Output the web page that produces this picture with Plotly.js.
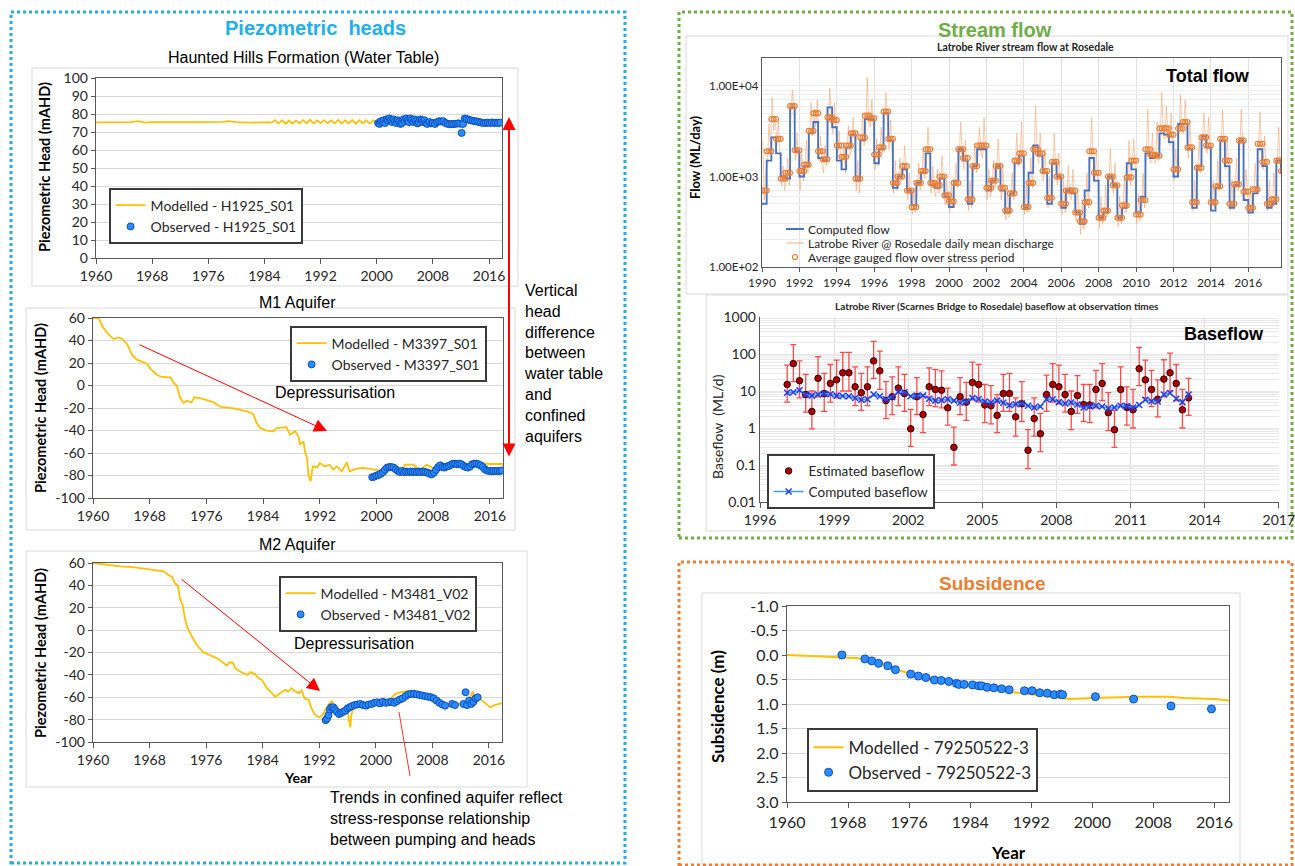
<!DOCTYPE html>
<html><head><meta charset="utf-8">
<script src="https://cdn.plot.ly/plotly-3.0.1.min.js"></script>
<style>html,body{margin:0;padding:0;background:#fff}#chart{width:1295px;height:866px}</style>
</head><body><div id="chart"></div>
<script>
const W=1295,H=866;
// ---------- Haunted Hills (H1925_S01) ----------
const hhModYears=[1960,1963,1965,1966,1967,1968,1972,1975,1978,1979,1980,1982,1984.5,
1985,1985.5,1986,1986.5,1987,1987.5,1988,1988.5,1989,1989.5,1990,1990.5,1991,1991.5,1992,1992.5,1993,1993.5,1994,1994.5,1995,1995.5,1996,1996.5,1997,1997.5,1998,1998.5,1999,1999.5,
2000,2000.5,2001,2001.5,2002,2002.5,2003,2003.5,2004,2004.5,2005,2005.5,2006,2006.5,2007,2007.5,2008,2008.5,2009,2009.5,2010,2010.5,2011,2011.5,
2012,2013,2014,2015,2016,2017,2017.85];
const hhModVals=[75.3,75.4,75.5,76,75.2,75.5,75.3,75.5,75.6,76,75.5,75.2,75.5,
75.2,76.6,74.8,76.5,74.6,76.4,74.7,76.3,74.8,76.6,74.9,76.8,74.8,76.5,75,76.6,74.9,76.4,74.8,76.7,74.7,76.5,74.8,76.6,74.6,76.5,74.8,76.5,74.7,76.6,
74.8,76.4,75,76.5,75,76.3,74.9,76.4,75,76.2,75,76.3,75.1,76.2,75,76.1,75,76.2,75.1,76,75,76.1,75.2,76,
75.3,75.6,75.4,75.5,75.5,75.4,75.5];
const hhObsYears=[2000.2,2000.4,2000.6,2000.8,2001,2001.2,2001.4,2001.6,2001.8,2002,2002.2,2002.4,2002.6,2002.8,2003,2003.2,2003.4,2003.6,2003.8,2004,2004.2,2004.4,2004.6,2004.8,2005,2005.2,2005.4,2005.6,2005.8,2006,2006.2,2006.4,2006.6,2006.8,2007,2007.2,
2007.5,2007.8,2008,2008.3,2008.6,2008.9,2009.2,2009.5,2009.8,2010.1,2010.4,2010.7,2011,2011.3,2011.6,2011.9,
2012.1,2012.3,2012.55,2012.8,
2013.1,2013.4,2013.7,2014,2014.3,2014.6,2014.9,2015.2,2015.5,2015.8,2016.1,2016.4,2016.7,2017,2017.3,2017.6];
const hhObsVals=[75,74.5,76,75.5,76.5,75,77,76.5,77.5,76.5,75.5,77,76,75,76.5,75.5,74.5,75,77,76,77.5,76.5,75.5,77.5,76.5,75.5,77,76,74.8,75.5,77,76.5,75.5,76.5,75,74.5,
75.5,74.8,75,74.5,75.5,76,75.8,76,75,74.5,74.3,74.5,74.4,74.6,74.8,74.6,
69.5,74.5,77.5,77.2,
76.8,76.5,76.2,76,75.8,75.5,75.3,75,75,75.2,75,75.3,75,75.2,75,75.2];
// ---------- M1 Aquifer (M3397_S01) ----------
const m1ModYears=[1960,1960.8,1961.3,1962,1962.9,1963.6,1964.1,1964.8,1965.5,1966.2,1967.6,1968.1,1969,1969.7,1970.9,1971.4,1971.8,1972.3,1972.8,1973.2,1973.9,1974.3,1975.1,1977,1977.9,1978.9,1979.8,1981.7,1982.6,1983.1,1983.6,1984.5,1985.5,1985.9,1987.3,1987.8,1988.5,1989,1989.2,1989.7,1989.9,1990.2,1990.4,1990.7,1991,1991.6,1992,1992.7,1993.4,1993.9,1994.4,1995.1,1995.8,1996.2,1997.2,1998.1,1999.5,2000.5,2001.4,2002.4,2003.8,2004,2005.2,2006.1,2007.1,2008,2009.4,2010.8,2012.7,2014.6,2016,2017.85];
const m1ModVals=[60,60,52.6,46.7,41.3,42.8,41.6,36.9,27.4,23,19.4,15,9.6,7.6,7.3,2.2,-0.1,-11,-15.6,-13.5,-15,-10.5,-11.3,-14.8,-18.8,-19.3,-20.3,-23,-25.3,-33.3,-37.8,-40.1,-40.7,-37.8,-37,-43.7,-40.7,-45.2,-52.6,-49.6,-58.5,-64.4,-79.3,-85.2,-71.9,-72.8,-68.9,-71.9,-70.4,-74.8,-71.9,-76.3,-68.3,-76.3,-73.9,-73.3,-74.8,-75.7,-73.9,-73.3,-73.9,-70.4,-70.4,-74.8,-70.4,-73.3,-71.9,-71.9,-71,-68.9,-69.8,-69.8];
const m1ObsYears=[1999.4,1999.7,2000,2000.3,2000.6,2000.9,2001.2,2001.5,2001.8,2002.1,2002.4,2002.7,2003,2003.3,2003.6,2003.9,2004.2,2004.5,2004.8,2005.1,2005.4,2005.7,2006,2006.3,2006.6,2006.9,2007.2,2007.5,2007.8,2008.1,2008.4,2008.7,2009,2009.3,2009.6,2009.9,2010.2,2010.5,2010.8,2011.1,2011.4,2011.7,2012,2012.3,2012.6,2012.9,2013.2,2013.5,2013.8,2014.1,2014.4,2014.7,2015,2015.3,2015.6,2015.9,2016.2,2016.5,2016.8,2017.1,2017.4,2017.7];
const m1ObsVals=[-81.5,-81,-80,-79.5,-78.5,-77,-75,-73,-72.5,-72.5,-73,-74.5,-76,-77,-76,-77,-76.5,-77,-76.5,-77,-76.5,-77,-76.5,-77,-76.5,-77,-77.5,-78.5,-79,-77.5,-75,-72.5,-71,-72.5,-73,-72,-71.5,-70.5,-69.5,-69.5,-70,-69.5,-70,-71.5,-72.5,-73,-72,-70,-69.5,-69.5,-70,-71,-72.5,-74.5,-75.5,-76,-76,-76,-76,-76,-76,-75.5];
// ---------- M2 Aquifer (M3481_V02) ----------
const m2ModYears=[1960,1962,1963.9,1965.7,1967.6,1969,1970,1970.7,1971.2,1971.6,1972,1972.3,1972.7,1973,1973.4,1974,1974.7,1975.6,1976.6,1977.5,1978.5,1978.9,1979.3,1979.8,1980.1,1980.8,1981.8,1982.3,1982.9,1983.4,1983.9,1984.6,1985.3,1985.8,1986.5,1986.9,1987.2,1987.6,1988.1,1988.6,1989.1,1989.5,1989.9,1990.5,1990.9,1991.4,1992,1992.5,1992.8,1993.3,1993.8,1994.2,1994.9,1995.4,1995.9,1996.1,1996.4,1996.5,1996.8,1997.8,1998.7,2000.1,2001.1,2002,2002.7,2003.4,2004.8,2006.3,2007.7,2008.6,2009.6,2010.5,2011.5,2012.4,2012.9,2013.4,2013.7,2014.1,2014.8,2015.5,2016.2,2016.7,2017.85];
const m2ModVals=[60,58.5,57,56.4,55,54,52.6,49,47.5,41.6,40,28,22,10.4,1.5,-6,-13.3,-19.8,-22.8,-25,-29.5,-31.7,-28.7,-29,-34,-37,-40,-37.5,-39.3,-43,-44.5,-51.9,-56.3,-59.6,-56.3,-54.2,-53.4,-54.8,-51.9,-54.8,-56.3,-53.9,-60.8,-62.3,-69.7,-75.6,-78,-75.6,-72,-66.7,-63.1,-71.1,-75.6,-72.6,-70.3,-77.1,-86.9,-77.1,-69.7,-66.7,-67.3,-65.2,-63.7,-62.3,-57.2,-55.7,-54.2,-56.3,-57.8,-63.7,-66.7,-68.2,-66.1,-65.2,-63.7,-59.3,-54.8,-62.3,-61.7,-65.2,-69,-67.3,-65.2];
const m2ObsYears=[1992.9,1993.1,1993.3,1993.5,1993.7,1994,1994.2,1994.5,1994.8,1995.1,1995.4,1995.7,1996,1996.3,1996.6,1997,1997.4,1997.8,1998.2,1998.6,1999,1999.4,1999.8,2000.2,2000.6,2001,2001.4,2001.8,2002.2,2002.6,2003,2003.4,2003.8,2004.2,2004.6,2005,2005.4,2005.8,2006.2,2006.6,2007,2007.4,2007.8,2008.2,2008.6,2009,2009.4,2009.8,2010.8,2011.2,2012.4,2012.7,2012.9,2013.2,2013.5,2013.8,2014.1,2014.4];
const m2ObsVals=[-80.5,-79,-76,-71,-69,-69,-71,-73,-75,-74,-73,-72,-70,-69,-68,-67,-66.5,-66,-67,-67.5,-66.5,-66,-65,-64.5,-65.5,-64,-65,-64.5,-64,-65,-63.5,-62,-61,-59,-57.5,-57,-57,-57.5,-58,-58.5,-59,-59.5,-60,-61,-63,-65,-66.5,-67.5,-66,-67,-66,-55.5,-67,-63,-66,-64,-61,-60];
const headTickVals=[-100,-80,-60,-40,-20,0,20,40,60];
const headTickText=['-100','-80','-60','-40','-20','0','20','40','60'];
// ---------- Stream flow (quarterly stress periods from 1990) ----------
const sfStartYear=1990, sfPeriod=0.25;
const sfComputed=[500,1500,2700,1800, 1000,950,5800,1900, 1000,1300,3000,4000, 1600,1500,5800,3500, 1500,1200,2100,2900, 900,2500,4300,4300, 1400,2000,5000,2500, 750,1000,1200,700, 480,850,1100,1800, 800,750,950,600, 460,900,2000,1500, 500,1300,2000,2000, 700,900,1300,700, 400,650,1400,1700, 450,1100,2200,1700, 1100,500,1400,1000, 450,700,650,400, 300,700,1600,900, 350,400,1000,800, 350,450,1400,1200, 400,600,1800,1600, 1700,3000,2900,2400, 1000,3800,3800,2000, 450,1300,2800,2100, 420,750,2500,1300, 450,800,2500,550, 400,650,2000,1300, 450,500,1500,1100];
const sfGauged=[700,1900,4300,2600, 950,1100,6000,1950, 1150,1350,3200,5000, 1900,1550,4500,4200, 2200,1650,2200,3000, 950,2700,4700,4400, 1750,2100,5200,2600, 850,1000,1300,700, 460,850,1150,2000, 850,800,1000,620, 530,850,2000,1600, 560,1300,2200,2200, 750,900,1300,750, 420,650,1500,1800, 460,850,2000,1800, 1150,580,1450,1000, 500,700,700,400, 320,520,1900,1100, 350,420,1000,800, 350,480,980,1500, 380,550,2000,1750, 1700,3400,3400,2900, 1200,3400,4000,2100, 520,1250,2700,2200, 520,780,2600,1500, 500,820,2500,680, 450,720,2300,1450, 500,560,1500,1150];
// monthly snapshot of the daily mean discharge (ML/day)
const sfDaily=[
2500,550,1200, 1400,3800,1900, 7500,3200,4500, 2200,4000,1800,
800,1300,700, 900,1600,800, 4500,9000,5500, 1500,3000,1300,
700,1800,900, 1200,2500,1100, 2500,6500,2800, 5500,3500,7000,
1500,2800,1400, 1100,2200,1300, 3500,9500,4000, 3000,6500,2800,
1600,3200,1500, 1200,2400,1100, 1800,3600,1700, 2200,4500,2400,
700,1500,650, 2000,5000,2200, 3500,12500,4000, 3500,7000,3200,
1200,2600,1300, 1600,3500,1800, 4000,8500,4200, 2000,4200,1900,
650,1500,700, 800,1600,900, 1000,2200,1100, 550,1100,500,
380,750,400, 650,1400,700, 900,2000,950, 1500,3500,1600,
650,1300,700, 600,1200,650, 800,1700,850, 480,900,500,
400,800,450, 700,1400,750, 1600,4000,1700, 1200,2500,1300,
420,900,450, 1000,2300,1100, 1700,3500,1800, 1600,4500,1700,
550,1200,600, 700,1500,750, 1000,2600,1100, 550,1200,600,
330,700,350, 500,1100,550, 1200,3000,1300, 1400,4000,1500,
380,800,400, 700,1600,750, 1600,6000,1800, 1400,3000,1500,
900,2000,950, 450,1000,500, 1100,3000,1200, 800,1800,850,
380,900,400, 550,1300,600, 550,1200,580, 320,700,350,
230,480,260, 420,1100,450, 1400,4500,1500, 850,1800,900,
270,600,300, 330,800,360, 800,2000,850, 650,1400,700,
280,600,300, 380,1000,400, 750,2500,800, 1200,2600,1250,
300,650,320, 420,1100,450, 1500,5500,1700, 1400,3000,1500,
1400,4000,1500, 2500,8500,2800, 2600,6000,2800, 2200,5000,2400,
900,2000,1000, 2800,8000,3000, 3000,7000,3400, 1600,4000,1800,
420,900,450, 1000,2500,1100, 2200,5000,2400, 1800,4500,1900,
420,900,450, 650,1500,700, 2000,5500,2200, 1200,2800,1300,
420,900,450, 650,1600,700, 2000,5500,2200, 550,1200,600,
380,800,400, 600,1400,650, 1800,5200,2000, 1200,2800,1300,
420,900,450, 480,1100,500, 1200,3500,1300, 900,2000,1000];
const flowTickVals=[100,1000,10000];
const flowTickText=['1.00E+02','1.00E+03','1.00E+04'];
const flowLegend=['Computed flow','Latrobe River @ Rosedale daily mean discharge','Average gauged flow over stress period'];
// ---------- Baseflow ----------
const bfYears=[1997.1,1997.35,1997.6,1997.85,1998.1,1998.35,1998.6,1998.85,1999.1,1999.35,1999.6,1999.85,
2000.1,2000.35,2000.6,2000.85,2001.1,2001.35,2001.6,2001.85,2002.1,2002.35,2002.6,2002.85,
2003.1,2003.35,2003.6,2003.85,2004.1,2004.35,2004.6,2004.85,2005.1,2005.35,2005.6,2005.85,
2006.1,2006.35,2006.6,2006.85,2007.1,2007.35,2007.6,2007.85,2008.1,2008.35,2008.6,2008.85,
2009.1,2009.35,2009.6,2009.85,2010.1,2010.35,2010.6,2010.85,2011.1,2011.35,2011.6,2011.85,
2012.1,2012.35,2012.6,2012.85,2013.1,2013.35];
const bfEstimated=[15,55,19,8,2.8,22,8.5,16,20,31,31,13, 9,13,65,35,5.5,7,12,8.5,0.95,7,2.3,13, 11,10.5,3.5,0.3,7,5,17,15,4.2,4,2.2,8.5, 8.5,2,4.5,0.25,1.8,0.7,8,15,13,8,2.8,7.5, 4.3,4.2,11,16,2.6,0.9,11,3.6,3.1,40,20,11, 6,21,31,16,3.1,6.5];
const bfHigh=[50,180,65,28,10,85,30,52,68,110,110,45, 30,45,220,120,18,24,45,28,3.2,23,8,42, 38,35,12,1.05,23,17,60,52,15,14,8,28, 30,6.5,18,0.9,6.5,2.5,27,55,50,28,10,26, 15,15,36,55,9,3,45,13,11,150,68,36, 20,70,105,52,11,22];
const bfLow=[5,18,6.5,2.7,0.95,7,2.8,5,6.5,10,10,4, 3,4,22,11,1.8,2.3,4,2.8,0.32,2.3,0.75,4, 3.8,3.5,1.2,0.1,2.3,1.6,5.8,5,1.4,1.3,0.75,2.8, 2.8,0.6,1.5,0.08,0.6,0.23,2.8,5,4.5,2.7,0.9,2.5, 1.5,1.4,3.5,5.5,0.85,0.3,3.8,1.2,1,14,6.5,3.8, 2,7,10,5.5,1,2.2];
const bfComputed=[9,9.2,10.5,8,7.5,8,8.5,8.2,7.5,7.3,7.2,6.5, 5.8,6,8,7.2,6,6.8,9.5,9.2,7.2,7.4,7.6,6.2, 5.5,5.6,6,5.5,4.8,5.2,6.5,6.1,5.2,4.9,5.5,4.8, 4.1,4.4,4.6,4,3.6,3.8,6,6,5,4.6,4.9,4.3, 3.6,3.8,4,3.8,3.4,3.6,4,3.9,3.6,4.2,5.8,5.3, 5.2,8,8.8,6.2,5,8];
const bfTickVals=[0.01,0.1,1,10,100,1000];
const bfTickText=['0.01','0.1','1','10','100','1000'];
const bfYearTicks=[1996,1999,2002,2005,2008,2011,2014,2017];
// ---------- Subsidence (79250522-3) ----------
const subModYears=[1960,1966,1969,1971,1973,1975,1977,1980,1983,1986,1989,1992,1994,1996,1997,2000,2004,2006,2010,2012,2016,2017.9];
const subModVals=[0,0.03,0.06,0.1,0.2,0.33,0.42,0.5,0.58,0.68,0.75,0.8,0.84,0.88,0.9,0.88,0.86,0.85,0.85,0.88,0.9,0.93];
const subObsYears=[1967.2,1970.2,1971.1,1972,1973.2,1974.2,1976.2,1977.2,1978.2,1979.3,1980.2,1981.2,1982.2,1982.5,1983.2,1984.3,1985.1,1985.5,1986.2,1987.1,1988.1,1989.1,1991.1,1992.1,1993.1,1994.1,1995,1995.8,1996.1,2000.4,2005.4,2010.3,2015.6];
const subObsVals=[0,0.08,0.12,0.17,0.22,0.3,0.39,0.43,0.46,0.51,0.52,0.54,0.58,0.6,0.6,0.61,0.63,0.63,0.66,0.67,0.69,0.71,0.73,0.73,0.77,0.78,0.81,0.8,0.81,0.85,0.9,1.04,1.1];
const subTickVals=[-1,-0.5,0,0.5,1,1.5,2,2.5,3];
const subTickText=['-1.0','-0.5','0.0','0.5','1.0','1.5','2.0','2.5','3.0'];

// ================= build =================
const X=p=>p/W, Y=p=>1-p/H;
const CAL='Lato, "Open Sans", sans-serif', ARL='"Liberation Sans", Arial, sans-serif';
const GOLD='#ffc000', OBS={size:7,color:'#2b8cff',line:{color:'#0b4fb8',width:1}};
const DAILY='rgba(244,165,115,0.6)', GAUGE='#ed7d31', COMP='#4472c4';

const sfX=sfComputed.map((v,i)=>sfStartYear+i*sfPeriod);
const sfCompX=sfX.concat([sfStartYear+sfComputed.length*sfPeriod]);
const sfCompY=sfComputed.concat([sfComputed[sfComputed.length-1]]);
const gX=[],gY=[];
sfGauged.forEach((v,i)=>{[0.0,0.125,0.25].forEach(o=>{gX.push(sfStartYear+i*sfPeriod+o);gY.push(v);});});
const dX=sfDaily.map((v,i)=>sfStartYear+i/12+1/24);
function logGrid(lo,hi){const a=[];for(let e=lo;e<hi;e++){for(let m=1;m<10;m++)a.push(+(m*Math.pow(10,e)).toPrecision(3));}a.push(Math.pow(10,hi));return a;}
const flowGrid=logGrid(2,4).concat([20000]);
const flowText=flowGrid.map(v=>{const k=flowTickVals.indexOf(v);return k>=0?flowTickText[k]:'';});
const bfGrid=logGrid(-2,3);
const bfText=bfGrid.map(v=>{const k=bfTickVals.findIndex(t=>Math.abs(t-v)<1e-9);return k>=0?bfTickText[k]:'';});

const traces=[
 {x:hhModYears,y:hhModVals,mode:'lines',line:{color:GOLD,width:1.8},name:'Modelled - H1925_S01',xaxis:'x',yaxis:'y',legend:'legend'},
 {x:hhObsYears,y:hhObsVals,mode:'markers',marker:OBS,name:'Observed - H1925_S01',xaxis:'x',yaxis:'y',legend:'legend'},
 {x:m1ModYears,y:m1ModVals,mode:'lines',line:{color:GOLD,width:1.8},name:'Modelled - M3397_S01',xaxis:'x2',yaxis:'y2',legend:'legend2'},
 {x:m1ObsYears,y:m1ObsVals,mode:'markers',marker:OBS,name:'Observed - M3397_S01',xaxis:'x2',yaxis:'y2',legend:'legend2'},
 {x:m2ModYears,y:m2ModVals,mode:'lines',line:{color:GOLD,width:1.8},name:'Modelled - M3481_V02',xaxis:'x3',yaxis:'y3',legend:'legend3'},
 {x:m2ObsYears,y:m2ObsVals,mode:'markers',marker:OBS,name:'Observed - M3481_V02',xaxis:'x3',yaxis:'y3',legend:'legend3'},
 {x:dX,y:sfDaily,mode:'lines',line:{color:DAILY,width:1},name:flowLegend[1],xaxis:'x4',yaxis:'y4',showlegend:false},
 {x:sfCompX,y:sfCompY,mode:'lines',line:{color:COMP,width:1.8,shape:'hv'},name:flowLegend[0],xaxis:'x4',yaxis:'y4',showlegend:false},
 {x:gX,y:gY,mode:'markers',marker:{symbol:'circle-open',size:5,color:GAUGE,line:{width:1.2,color:GAUGE}},name:flowLegend[2],xaxis:'x4',yaxis:'y4',showlegend:false},
 {x:bfYears,y:bfEstimated,mode:'markers',marker:{size:6.5,color:'#b00000',line:{color:'#2a0000',width:1}},
  error_y:{type:'data',symmetric:false,array:bfHigh.map((h,i)=>h-bfEstimated[i]),arrayminus:bfLow.map((l,i)=>bfEstimated[i]-l),color:'#ff4a4a',thickness:1.3,width:3},
  name:'Estimated baseflow',xaxis:'x5',yaxis:'y5',legend:'legend5'},
 {x:bfYears,y:bfComputed,mode:'lines+markers',line:{color:'#3d9cff',width:1.5},marker:{symbol:'x-thin-open',size:6,color:'#1d3cf0',line:{width:1.5,color:'#1d3cf0'}},name:'Computed baseflow',xaxis:'x5',yaxis:'y5',legend:'legend5'},
 {x:subModYears,y:subModVals,mode:'lines',line:{color:GOLD,width:2},name:'Modelled - 79250522-3',xaxis:'x6',yaxis:'y6',legend:'legend6'},
 {x:subObsYears,y:subObsVals,mode:'markers',marker:{size:8,color:'#2b8cff',line:{color:'#0b4fb8',width:1}},name:'Observed - 79250522-3',xaxis:'x6',yaxis:'y6',legend:'legend6'}
];

function ax(o){return Object.assign({showgrid:false,zeroline:false,showline:true,mirror:true,linecolor:'#595959',linewidth:1.3,
  ticks:'outside',ticklen:5,tickcolor:'#595959',tickfont:{family:CAL,size:14,color:'#262626'},fixedrange:true},o);}
const yearAx=(a,b,an)=>ax({domain:[X(a),X(b)],anchor:an,range:[1960,2017.85],tick0:1960,dtick:8});
function leg(x,y,size){return {x:X(x),y:Y(y),xanchor:'left',yanchor:'top',bgcolor:'#ffffff',
  bordercolor:'#3a3a3a',borderwidth:1.6,font:{family:CAL,size:size,color:'#262626'},itemwidth:30,tracegroupgap:0};}

const layout={width:W,height:H,margin:{l:0,r:0,t:0,b:0},paper_bgcolor:'#fff',plot_bgcolor:'#fff',
 xaxis:yearAx(96,502,'y'),
 yaxis:ax({domain:[Y(258),Y(78)],anchor:'x',range:[0,100],dtick:10,showgrid:true,gridcolor:'#d9d9d9',ticklen:4}),
 xaxis2:yearAx(93,503,'y2'),
 yaxis2:ax({domain:[Y(498),Y(318)],anchor:'x2',range:[-100,60],tickvals:headTickVals,ticktext:headTickText,showgrid:true,gridcolor:'#d9d9d9',ticklen:4}),
 xaxis3:yearAx(93,502,'y3'),
 yaxis3:ax({domain:[Y(742),Y(563)],anchor:'x3',range:[-100,60],tickvals:headTickVals,ticktext:headTickText,showgrid:true,gridcolor:'#d9d9d9',ticklen:4}),
 xaxis4:ax({domain:[X(762),X(1281)],anchor:'y4',range:[1990,2017.75],tick0:1990,dtick:2,showgrid:true,gridcolor:'#e2e2e2',ticklen:4,tickfont:{family:CAL,size:12,color:'#262626'}}),
 yaxis4:ax({domain:[Y(267),Y(58)],anchor:'x4',type:'log',range:[2,4.309],tickvals:flowGrid,ticktext:flowText,ticks:'',showgrid:true,gridcolor:'#ececec',tickfont:{family:CAL,size:11.5,color:'#262626'}}),
 xaxis5:ax({domain:[X(760),X(1279)],anchor:'y5',range:[1996,2017.01],tickvals:bfYearTicks,ticktext:bfYearTicks.map(String),mirror:false,showgrid:true,gridcolor:'#e0e0e0',ticklen:5,tickfont:{family:CAL,size:14,color:'#262626'}}),
 yaxis5:ax({domain:[Y(502),Y(317)],anchor:'x5',type:'log',range:[-2,3],tickvals:bfGrid,ticktext:bfText,ticks:'',mirror:false,showgrid:true,gridcolor:'#e8e8e8',tickfont:{family:CAL,size:14,color:'#262626'}}),
 xaxis6:ax({domain:[X(787),X(1229)],anchor:'y6',range:[1960,2017.9],tick0:1960,dtick:8,tickfont:{family:CAL,size:16,color:'#262626'}}),
 yaxis6:ax({domain:[Y(802),Y(606)],anchor:'x6',range:[3,-1],tickvals:subTickVals,ticktext:subTickText,showgrid:true,gridcolor:'#d9d9d9',ticklen:4,tickfont:{family:CAL,size:16,color:'#262626'}}),
 legend:leg(109,188,14),
 legend2:leg(290,326,14),
 legend3:leg(279,576,14),
 legend5:leg(767,454,13.5),
 legend6:leg(807,728,17),
 showlegend:true
};

function rect(x0,y0,x1,y1,color,width,dash){return {type:'rect',xref:'paper',yref:'paper',x0:X(x0),x1:X(x1),y0:Y(y1),y1:Y(y0),line:{color:color,width:width,dash:dash||'solid'},fillcolor:'rgba(0,0,0,0)',layer:'below'};}
function seg(x0,y0,x1,y1,color,width){return {type:'line',xref:'paper',yref:'paper',x0:X(x0),y0:Y(y0),x1:X(x1),y1:Y(y1),line:{color:color,width:width}};}
layout.shapes=[
 rect(32,68,518,286,'#d9d9d9',1), rect(26,308,515,530,'#d9d9d9',1), rect(26,551,527,787,'#d9d9d9',1),
 rect(686,36,1288,294,'#d9d9d9',1), rect(706,295,1288,531,'#d9d9d9',1), rect(702,593,1240,865,'#d9d9d9',1),
 rect(11,12,625,863,'#29abe2',3,'dot'), rect(679,12,1292,538,'#70ad47',3,'dot'), rect(679,562,1292,865,'#ed7d31',3,'dot'),
 seg(399,712,410,776,'#ff3030',1),
 // stream-flow legend symbols
 seg(786,229,804,229,COMP,2),
 seg(786,243,804,243,DAILY,1.5),
 {type:'circle',xref:'paper',yref:'paper',x0:X(792.5),x1:X(797.5),y0:Y(259.5),y1:Y(254.5),line:{color:GAUGE,width:1.2},fillcolor:'rgba(0,0,0,0)'}
];

function txt(t,x,y,size,opts){return Object.assign({text:t,xref:'paper',yref:'paper',x:X(x),y:Y(y),showarrow:false,xanchor:'center',yanchor:'middle',font:{family:ARL,size:size,color:'#000'}},opts||{});}
function arrow(x0,y0,x1,y1,w,size,both){return {text:'',xref:'paper',yref:'paper',x:X(x1),y:Y(y1),axref:'pixel',ayref:'pixel',ax:x0-x1,ay:y0-y1,
  showarrow:true,arrowcolor:'#ff0000',arrowwidth:w,arrowhead:2,arrowsize:size,startarrowhead:2,startarrowsize:size,arrowside:both?'end+start':'end',standoff:0,startstandoff:0};}
const legTxt=(t,y)=>txt(t,806,y,12,{xanchor:'left',font:{family:CAL,size:12,color:'#262626'}});
layout.annotations=[
 txt('<b>Piezometric  heads</b>',315,28,20,{font:{family:ARL,size:20,color:'#1cb0ec'}}),
 txt('<b>Stream flow</b>',995,30,20,{font:{family:ARL,size:20,color:'#70ad47'}}),
 txt('<b>Subsidence</b>',992,583,19,{font:{family:ARL,size:19,color:'#ed7d31'}}),
 txt('Haunted Hills Formation (Water Table)',303,57,16),
 txt('M1 Aquifer',297,302,16),
 txt('M2 Aquifer',297,544,16),
 txt('<b>Latrobe River stream flow at Rosedale</b>',1025,47,10.5,{font:{family:CAL,size:10.5,color:'#262626'}}),
 txt('<b>Latrobe River (Scarnes Bridge to Rosedale) baseflow at observation times</b>',997,306,10,{font:{family:CAL,size:10,color:'#262626'}}),
 txt('<b>Total flow</b>',1208,76,18),
 txt('<b>Baseflow</b>',1224,334,18),
 txt('Depressurisation',335,392,16),
 txt('Depressurisation',354,643,16),
 txt('Vertical<br>head<br>difference<br>between<br>water table<br>and<br>confined<br>aquifers',522,280,16,{xanchor:'left',yanchor:'top',align:'left'}),
 txt('Trends in confined aquifer reflect<br>stress-response relationship<br>between pumping and heads',328,787,16,{xanchor:'left',yanchor:'top',align:'left'}),
 legTxt(flowLegend[0],229), legTxt(flowLegend[1],243), legTxt(flowLegend[2],257),
 // axis titles
 txt('<b>Piezometric Head (mAHD)</b>',44,167,14.5,{textangle:-90,font:{family:CAL,size:14.5,color:'#000'}}),
 txt('<b>Piezometric Head (mAHD)</b>',40,408,14.5,{textangle:-90,font:{family:CAL,size:14.5,color:'#000'}}),
 txt('<b>Piezometric Head (mAHD)</b>',40,653,14.5,{textangle:-90,font:{family:CAL,size:14.5,color:'#000'}}),
 txt('<b>Year</b>',298,777,14,{font:{family:CAL,size:14,color:'#000'}}),
 txt('<b>Flow (ML/day)</b>',695,157,13,{textangle:-90,font:{family:CAL,size:13,color:'#000'}}),
 txt('Baseflow  (ML/d)',717,427,14,{textangle:-90,font:{family:CAL,size:14,color:'#262626'}}),
 txt('<b>Subsidence (m)</b>',717,707,17,{textangle:-90,font:{family:CAL,size:17,color:'#000'}}),
 txt('<b>Year</b>',1008,852,17,{font:{family:CAL,size:17,color:'#000'}}),
 // arrows
 arrow(509,458,509,117,2,1.3,true),
 arrow(138,344,327,431,1,2.6,false),
 arrow(180,578,320,691,1,2.6,false)
];

Plotly.newPlot('chart',traces,layout,{staticPlot:true,displayModeBar:false});
</script></body></html>
